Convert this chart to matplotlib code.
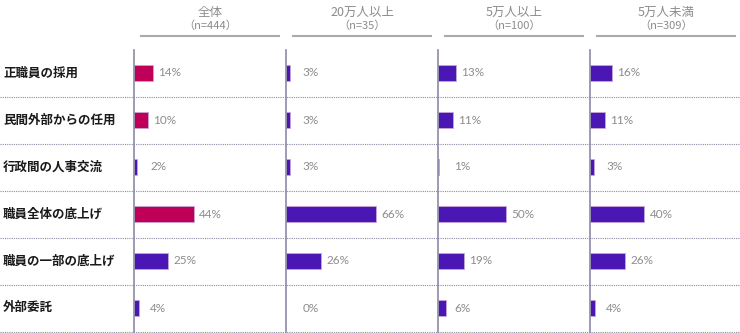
import matplotlib
matplotlib.use("Agg")
import matplotlib.pyplot as plt
from matplotlib.transforms import blended_transform_factory
from matplotlib.lines import Line2D

plt.rcParams['font.family'] = ['Noto Sans CJK JP', 'DejaVu Sans']

categories = ["正職員の採用", "民間外部からの任用", "行政間の人事交流",
              "職員全体の底上げ", "職員の一部の底上げ", "外部委託"]
groups = ["全体", "20万人以上", "5万人以上", "5万人未満"]
group_n = ["（n=444）", "（n=35）", "（n=100）", "（n=309）"]
values = {
    "全体": [14, 10, 2, 44, 25, 4],
    "20万人以上": [3, 3, 3, 66, 26, 0],
    "5万人以上": [13, 11, 1, 50, 19, 6],
    "5万人未満": [16, 11, 3, 40, 26, 4],
}
highlight_rows = [0, 1, 3]  # highlighted rows in 全体 panel

MAGENTA = "#BE0058"
PURPLE = "#4A17B5"
AXIS_C = "#8A8AA8"
TEXT_G = "#8C8C8C"

W, H = 740, 333
fig = plt.figure(figsize=(W / 100, H / 100), dpi=100)

left0 = 134
pw = 152
top = 49.5
bottom = 331.5
xmax = pw / 1.36

axes = []
for gi, g in enumerate(groups):
    x0 = left0 + gi * pw
    ax = fig.add_axes([x0 / W, 1 - bottom / H, pw / W, (bottom - top) / H])
    ax.set_xlim(0, xmax)
    ax.set_ylim(len(categories) - 0.5, -0.5)
    ax.axis("off")
    vals = values[g]
    for i, v in enumerate(vals):
        c = MAGENTA if (gi == 0 and i in highlight_rows) else PURPLE
        if v > 0:
            ax.barh(i, v, height=0.34, color=c, edgecolor="#C9A6D6",
                    linewidth=0.6, zorder=3)
        lx = max(v, 8) + 4
        ax.text(lx, i, f"{v}%", color=TEXT_G, fontsize=8.5, va="center",
                ha="left", family=['Lato', 'DejaVu Sans'])
    # vertical axis line
    ax.plot([0, 0], [-0.5, len(categories) - 0.5], color=AXIS_C, lw=1.2,
            zorder=4, clip_on=False)
    # headers
    cx = (x0 + pw / 2) / W
    fig.text(cx, 1 - 12.5 / H, g, ha="center", va="center", fontsize=9,
             color=TEXT_G)
    fig.text(cx, 1 - 25.5 / H, group_n[gi], ha="center", va="center",
             fontsize=8, color=TEXT_G)
    fig.add_artist(Line2D([(x0 + 7) / W, (x0 + 145) / W],
                          [1 - 36 / H, 1 - 36 / H], color="#AAAAAA", lw=1.5))
    axes.append(ax)

# dotted row separators across full width
tr = blended_transform_factory(fig.transFigure, axes[0].transData)
for i in range(len(categories)):
    fig.add_artist(Line2D([0, 1], [i + 0.5, i + 0.5], transform=tr,
                          color=AXIS_C, lw=0.8, linestyle=(0, (1, 1))))

# category labels
for i, c in enumerate(categories):
    fig.text(3 / W, i, c, transform=tr, ha="left", va="center",
             fontsize=9, fontweight="bold", color="#1A1A1A")

fig.savefig("out.png", dpi=100)
